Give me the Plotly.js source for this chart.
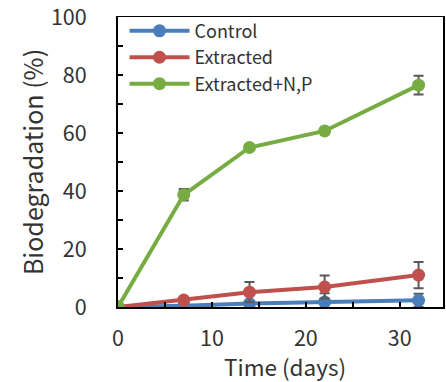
<!DOCTYPE html>
<html><head><meta charset="utf-8">
<script src="https://cdn.plot.ly/plotly-3.0.1.min.js"></script>
<style>body{margin:0;background:#fff}#c{width:446px;height:382px}</style>
</head><body><div id="c"></div>
<script>
const days = [0, 7, 14, 22, 32];
const control = [0, 0.4, 1.2, 1.7, 2.3];
const controlErr = [0, 0.3, 0.5, 3.0, 2.3];
const extracted = [0, 2.4, 5.1, 6.9, 11];
const extractedErr = [0, 0.5, 3.5, 4.0, 4.5];
const extractedNP = [0, 38.7, 55, 60.7, 76.5];
const extractedNPErr = [0, 2.0, 0.8, 0.8, 3.2];
const names = ["Control", "Extracted", "Extracted+N,P"];
const colors = ["#4A7EBB", "#C0504D", "#77AC43"];
const xTitle = 'Time (days)';
const yTitle = 'Biodegradation (%)';

const font = '"Noto Sans CJK JP", "Noto Sans", sans-serif';
function tr(y, e, i) {
  return {
    x: days, y: y, name: names[i], type: 'scatter', mode: 'lines+markers',
    line: {color: colors[i], width: 4},
    marker: {color: colors[i], size: 13},
    error_y: {type: 'data', array: e, visible: true, color: '#595959', thickness: 2, width: 5}
  };
}
const data = [tr(control, controlErr, 0), tr(extracted, extractedErr, 1), tr(extractedNP, extractedNPErr, 2)];
const layout = {
  width: 446, height: 382,
  margin: {l: 118, r: 3, t: 17, b: 75},
  paper_bgcolor: '#fff', plot_bgcolor: '#fff',
  font: {family: font, color: '#333', size: 21},
  showlegend: true,
  legend: {x: 0.02, y: 1.015, xanchor: 'left', yanchor: 'top', bgcolor: 'rgba(0,0,0,0)',
           font: {size: 18, family: font, color: '#333'}, itemwidth: 60, tracegroupgap: 0},
  xaxis: {range: [0, 34.6], dtick: 5, tick0: 0, ticks: 'inside', ticklen: 5, tickcolor: '#000', tickwidth: 1.5,
          ticklabelstep: 2, ticklabelstandoff: 12, ticklabeloverflow: 'allow',
          showgrid: false, zeroline: false,
          showline: true, linecolor: '#000', linewidth: 1.5, mirror: true,
          tickfont: {size: 21.5, family: font}},
  yaxis: {range: [0, 100], dtick: 10, tick0: 0, ticks: 'inside', ticklen: 5, tickcolor: '#000', tickwidth: 1.5,
          ticklabelstep: 2, ticklabelstandoff: 25, ticklabeloverflow: 'allow',
          showgrid: false, zeroline: false,
          showline: true, linecolor: '#000', linewidth: 2, mirror: true,
          title: {text: yTitle, font: {size: 25, family: font}, standoff: 0},
          tickfont: {size: 21.5, family: font}},
  annotations: [{text: xTitle, xref: 'paper', yref: 'paper', x: 0.515, y: 0, xanchor: 'center', yanchor: 'top',
                 yshift: -42, borderpad: 0, showarrow: false, font: {size: 22.5, family: font, color: '#333'}}]
};
Plotly.newPlot('c', data, layout, {displayModeBar: false, staticPlot: true});
</script></body></html>
